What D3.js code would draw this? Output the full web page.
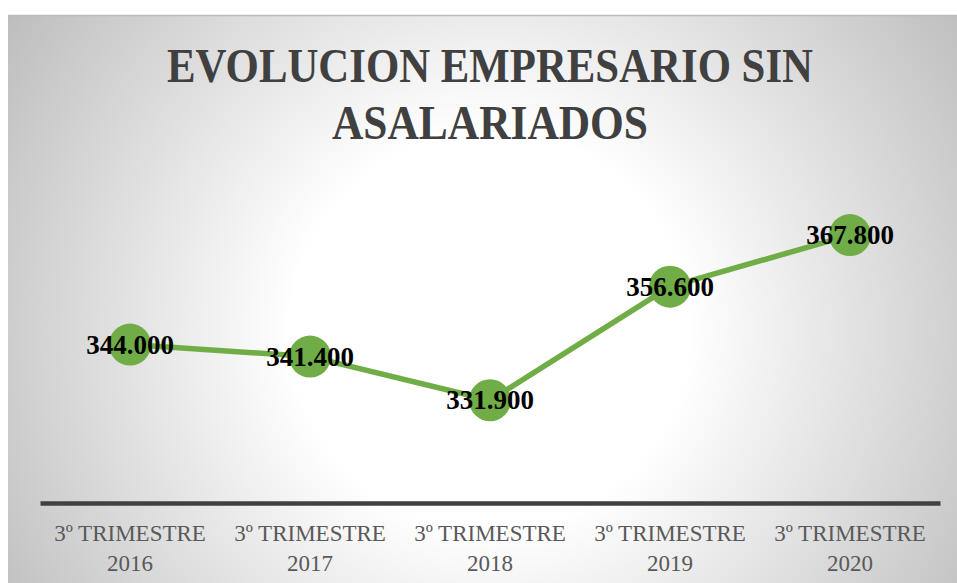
<!DOCTYPE html>
<html>
<head>
<meta charset="utf-8">
<script src="https://cdn.jsdelivr.net/npm/d3@7"></script>
<style>
	body { margin: 0; background: #fff; }
	svg { display: block; }
</style>
</head>
<body>
<svg id="chart"></svg>
<script>
// data
var periods = ["3º TRIMESTRE 2016", "3º TRIMESTRE 2017", "3º TRIMESTRE 2018", "3º TRIMESTRE 2019", "3º TRIMESTRE 2020"];
var quarterText = ["3º TRIMESTRE", "3º TRIMESTRE", "3º TRIMESTRE", "3º TRIMESTRE", "3º TRIMESTRE"];
var yearText = ["2016", "2017", "2018", "2019", "2020"];
var values = [344000, 341400, 331900, 356600, 367800];
var yDomain = [310000, 370000];
var titleLines = ["EVOLUCION EMPRESARIO SIN", "ASALARIADOS"];

var width = 957, height = 583;

var svg = d3.select("#chart")
	.attr("width", width)
	.attr("height", height);

// background with the radial shading
var defs = svg.append("defs");
var grad = defs.append("radialGradient")
	.attr("id", "bg")
	.attr("gradientUnits", "userSpaceOnUse")
	.attr("cx", 490).attr("cy", 330).attr("r", 600);
grad.append("stop").attr("offset", "0%").attr("stop-color", "#ffffff");
grad.append("stop").attr("offset", "33%").attr("stop-color", "#ffffff");
grad.append("stop").attr("offset", "100%").attr("stop-color", "#b9b9b9");

svg.append("rect")
	.attr("x", 8).attr("y", 15)
	.attr("width", width - 8).attr("height", height - 15)
	.attr("fill", "url(#bg)");
svg.append("line")
	.attr("x1", 8).attr("x2", width)
	.attr("y1", 15.5).attr("y2", 15.5)
	.attr("stroke", "#bcbcbc").attr("stroke-width", 1.5);

// title
var title = svg.append("g")
	.attr("font-family", "'Liberation Serif', serif")
	.attr("font-weight", "bold")
	.attr("font-size", 48)
	.attr("fill", "#404040")
	.attr("text-anchor", "middle");
var titleWidths = [646, 316];
title.selectAll("text")
	.data(titleLines)
	.join("text")
	.attr("x", 490)
	.attr("y", function(d, i) { return 82 + i * 57; })
	.attr("textLength", function(d, i) { return titleWidths[i]; })
	.attr("lengthAdjust", "spacingAndGlyphs")
	.text(function(d) { return d; });

var x = d3.scalePoint()
	.domain(periods)
	.range([40, 940])
	.padding(0.5);

var y = d3.scaleLinear()
	.domain(yDomain)
	.range([501, 225]);

// category axis
var xAxis = svg.append("g")
	.attr("transform", "translate(0,503)")
	.call(d3.axisBottom(x).tickSize(0).tickFormat(""));
xAxis.select(".domain")
	.attr("stroke", "#404040")
	.attr("stroke-width", 4.5);
xAxis.selectAll(".tick text").remove();

var ticks = svg.append("g")
	.attr("font-family", "'Liberation Serif', serif")
	.attr("font-size", 23)
	.attr("fill", "#595959")
	.attr("text-anchor", "middle");
ticks.selectAll("text")
	.data(periods)
	.join("text")
	.attr("x", function(d) { return x(d); })
	.attr("y", 541)
	.each(function(d, i) {
		var t = d3.select(this);
		t.append("tspan").attr("x", x(d)).text(quarterText[i]);
		t.append("tspan").attr("x", x(d)).attr("dy", 30).text(yearText[i]);
	});

// series
var line = d3.line()
	.x(function(d, i) { return x(periods[i]); })
	.y(function(d) { return y(d); });

svg.append("path")
	.datum(values)
	.attr("d", line)
	.attr("fill", "none")
	.attr("stroke", "#70ad47")
	.attr("stroke-width", 5.5)
	.attr("stroke-linejoin", "round")
	.attr("stroke-linecap", "round");

svg.append("g")
	.selectAll("circle")
	.data(values)
	.join("circle")
	.attr("cx", function(d, i) { return x(periods[i]); })
	.attr("cy", function(d) { return y(d); })
	.attr("r", 21)
	.attr("fill", "#70ad47");

var es = d3.formatLocale({ decimal: ",", thousands: ".", grouping: [3], currency: ["", " €"] });
var fmt = es.format(",.0f");

svg.append("g")
	.attr("font-family", "'Liberation Serif', serif")
	.attr("font-weight", "bold")
	.attr("font-size", 27)
	.attr("fill", "#000")
	.attr("text-anchor", "middle")
	.selectAll("text")
	.data(values)
	.join("text")
	.attr("x", function(d, i) { return x(periods[i]); })
	.attr("y", function(d) { return y(d) + 9; })
	.text(function(d) { return fmt(d); });
</script>
</body>
</html>
